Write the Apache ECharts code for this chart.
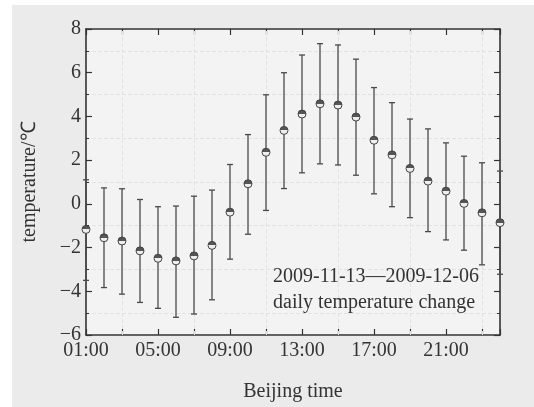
<!DOCTYPE html>
<html>
<head>
<meta charset="utf-8">
<script src="https://cdn.jsdelivr.net/npm/echarts@6/dist/echarts.min.js"></script>
<style>
  html, body { margin: 0; padding: 0; background: #fff; }
  #chart { width: 534px; height: 407px; }
</style>
</head>
<body>
<div id="chart"></div>
<script>
// hourly values
const hours = [1, 2, 3, 4, 5, 6, 7, 8, 9, 10, 11, 12, 13, 14, 15, 16, 17, 18, 19, 20, 21, 22, 23, 24];
const meanTemp = [-1.17, -1.55, -1.70, -2.15, -2.49, -2.61, -2.38, -1.90, -0.38, 0.92, 2.36, 3.36,
                  4.11, 4.58, 4.52, 3.97, 2.91, 2.24, 1.62, 1.04, 0.58, 0.02, -0.41, -0.86];
const highTemp = [1.10, 0.73, 0.69, 0.20, -0.13, -0.10, 0.35, 0.63, 1.80, 3.17, 4.99, 6.00,
                  6.81, 7.33, 7.27, 6.62, 5.32, 4.63, 3.88, 3.43, 2.79, 2.18, 1.88, 1.50];
const lowTemp = [-3.50, -3.83, -4.13, -4.51, -4.78, -5.19, -5.04, -4.39, -2.53, -1.39, -0.30, 0.70,
                 1.42, 1.83, 1.78, 1.31, 0.46, -0.13, -0.63, -1.27, -1.65, -2.12, -2.79, -3.22];
const labelHours = [1, 5, 9, 13, 17, 21];
const gridHours = [3, 7, 11, 15, 19, 23];
const noteLines = ['2009-11-13\u20142009-12-06', 'daily temperature change'];

const font = "'Liberation Serif', 'Times New Roman', serif";
const fs = 20;
const ink = '#333';
const faint = '#e2e2e2';

const chart = echarts.init(document.getElementById('chart'));

const pad = n => (n < 10 ? '0' : '') + n;

const xBase = {
  type: 'value',
  min: 1,
  max: 24,
  interval: 2,
  axisLine: { show: true, onZero: false, lineStyle: { color: ink, width: 1.6 } },
  axisTick: { show: true, inside: true, length: 6, lineStyle: { color: ink, width: 1.2 } },
  splitLine: { show: false }
};

const yBase = {
  type: 'value',
  min: -6,
  max: 8,
  interval: 2,
  axisLine: { show: true, lineStyle: { color: ink, width: 1.6 } },
  axisTick: { show: true, inside: true, length: 6, lineStyle: { color: ink, width: 1.2 } },
  minorTick: { show: true, splitNumber: 2, length: 3, lineStyle: { color: ink, width: 1 } },
  splitLine: { show: false }
};

const bars = hours.map((h, i) => [h, lowTemp[i], highTemp[i]]);
const points = hours.map((h, i) => [h, meanTemp[i]]);

const option = {
  backgroundColor: '#fff',
  animation: false,
  graphic: [
    { type: 'rect', left: 12, top: 5, z: -10, shape: { width: 522, height: 402 },
      style: { fill: '#ebebeb' }, silent: true },
    { type: 'rect', left: 86, top: 29, z: -9, shape: { width: 414, height: 307 },
      style: { fill: '#f3f3f3' }, silent: true },
    { type: 'text', left: 273, top: 264, z: 10,
      style: { text: noteLines.join('\n'), font: fs + 'px ' + font, fill: ink, lineHeight: 26 } }
  ],
  grid: { left: 86, right: 34, top: 29, bottom: 71, containLabel: false },
  xAxis: [
    Object.assign({}, xBase, {
      position: 'bottom',
      name: 'Beijing time',
      nameLocation: 'middle',
      nameGap: 47,
      nameTextStyle: { fontFamily: font, fontSize: fs, color: ink },
      axisLabel: {
        fontFamily: font, fontSize: fs, color: ink, margin: 6,
        formatter: v => (labelHours.indexOf(v) >= 0 ? pad(v) + ':00' : '')
      }
    }),
    Object.assign({}, xBase, { position: 'top', axisLabel: { show: false } })
  ],
  yAxis: [
    Object.assign({}, yBase, {
      position: 'left',
      name: 'temperature/\u2103',
      nameLocation: 'middle',
      nameGap: 46,
      nameTextStyle: { fontFamily: font, fontSize: fs, color: ink },
      axisLabel: { fontFamily: font, fontSize: fs, color: ink, margin: 5,
        formatter: v => (v < 0 ? '\u2212' + Math.abs(v) : '' + v) },
      minorSplitLine: { show: true, lineStyle: { color: faint, type: 'dashed', width: 1 } }
    }),
    Object.assign({}, yBase, { position: 'right', axisLabel: { show: false } })
  ],
  series: [
    {
      // faint vertical guide lines, kept under the bars
      type: 'line',
      name: 'guides',
      z: 1,
      data: [],
      markLine: {
        silent: true,
        z: 1,
        symbol: 'none',
        label: { show: false },
        lineStyle: { color: faint, type: 'dashed', width: 1 },
        data: gridHours.map(h => ({ xAxis: h }))
      }
    },
    {
      type: 'custom',
      name: 'range',
      clip: false,
      z: 3,
      data: bars,
      renderItem: function (params, api) {
        const x = api.value(0);
        const lo = api.coord([x, api.value(1)]);
        const hi = api.coord([x, api.value(2)]);
        const cap = 3;
        const st = { stroke: '#4a4a4a', lineWidth: 1.3 };
        return {
          type: 'group',
          children: [
            { type: 'line', shape: { x1: lo[0], y1: lo[1], x2: hi[0], y2: hi[1] }, style: st },
            { type: 'line', shape: { x1: hi[0] - cap, y1: hi[1], x2: hi[0] + cap, y2: hi[1] }, style: st },
            { type: 'line', shape: { x1: lo[0] - cap, y1: lo[1], x2: lo[0] + cap, y2: lo[1] }, style: st }
          ]
        };
      }
    },
    {
      type: 'scatter',
      name: 'mean',
      clip: false,
      z: 4,
      symbol: 'circle',
      symbolSize: 8,
      data: points,
      itemStyle: {
        color: new echarts.graphic.LinearGradient(0, 0, 0, 1, [
          { offset: 0, color: '#555' },
          { offset: 0.5, color: '#555' },
          { offset: 0.5, color: '#eeeeee' },
          { offset: 1, color: '#eeeeee' }
        ]),
        borderColor: '#444',
        borderWidth: 1,
        opacity: 1
      }
    }
  ]
};

chart.setOption(option);
</script>
</body>
</html>
